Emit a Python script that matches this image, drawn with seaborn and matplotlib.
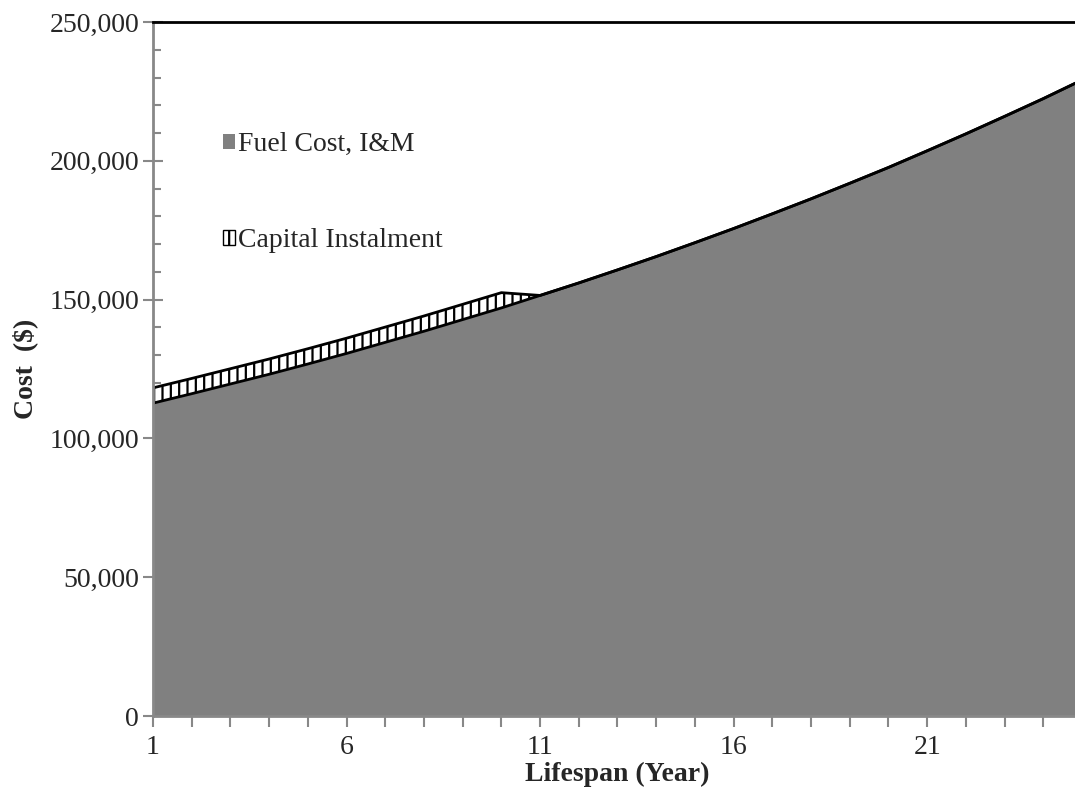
import numpy as np
import pandas as pd
import matplotlib
matplotlib.use('Agg')
import matplotlib.pyplot as plt
import seaborn as sns
from matplotlib.patches import Patch
from matplotlib.ticker import MultipleLocator, FixedLocator, FuncFormatter

# values
years = list(range(1, 26))
fuel_cost = [112700, 116100, 119600, 123100, 126800, 130600, 134600, 138600,
             142800, 147000, 151500, 156000, 160700, 165500, 170500, 175600,
             180900, 186300, 191900, 197600, 203600, 209700, 216000, 222400,
             229100]
capital = [5500] * 10 + [0] * 15
year_labels = [1, 6, 11, 16, 21]

df = pd.DataFrame({'year': years, 'fuel': fuel_cost, 'capital': capital})
df['total'] = df['fuel'] + df['capital']

sns.set_style('ticks')
plt.rcParams['font.family'] = ['Liberation Serif', 'DejaVu Serif']
plt.rcParams['hatch.linewidth'] = 1.6

fig = plt.figure(figsize=(10.75, 7.89), dpi=100)
ax = fig.add_axes([153 / 1075, 1 - 716 / 789, (1082 - 153) / 1075, (716 - 22) / 789])

ax.fill_between(df['year'], 0, df['fuel'], color='#808080', linewidth=0, zorder=1)
ax.fill_between(df['year'], df['fuel'], df['total'], facecolor='white',
                edgecolor='black', hatch='||', linewidth=0, zorder=1)
sns.lineplot(data=df, x='year', y='fuel', color='black', linewidth=2, ax=ax, zorder=2)
sns.lineplot(data=df, x='year', y='total', color='black', linewidth=2, ax=ax, zorder=2)
ax.plot([1, 1], [df['fuel'][0], df['total'][0]], color='black', linewidth=2, zorder=2)

ax.set_xlim(1, 25)
ax.set_ylim(0, 250000)

ax.xaxis.set_major_locator(FixedLocator(year_labels))
ax.xaxis.set_minor_locator(MultipleLocator(1))
ax.yaxis.set_major_locator(MultipleLocator(50000))
ax.yaxis.set_minor_locator(MultipleLocator(10000))
ax.yaxis.set_major_formatter(FuncFormatter(lambda v, p: f'{int(v):,}'))

ax.tick_params(axis='y', which='major', direction='inout', length=14, width=1.5,
               color='#888888', labelsize=20, pad=3)
ax.tick_params(axis='y', which='minor', direction='in', length=6, width=1.5,
               color='#888888')
ax.tick_params(axis='x', which='both', direction='out', length=8, width=1.5,
               color='#888888', labelsize=20, pad=6)

for side in ['left', 'bottom']:
    ax.spines[side].set_color('#888888')
    ax.spines[side].set_linewidth(2)
ax.spines['top'].set_color('black')
ax.spines['top'].set_linewidth(2)
ax.spines['right'].set_visible(False)

ax.set_xlabel('Lifespan (Year)', fontsize=20, fontweight='bold', labelpad=1)
ax.set_ylabel('Cost  ($)', fontsize=20, fontweight='bold', labelpad=8)

handles = [Patch(facecolor='#808080', edgecolor='none', label='Fuel Cost, I&M'),
           Patch(facecolor='white', edgecolor='black', hatch='||', label='Capital Instalment')]
ax.legend(handles=handles, loc='upper left', bbox_to_anchor=(0.048, 0.877),
          frameon=False, fontsize=20, handlelength=0.45, handleheight=0.45,
          handletextpad=0.12, labelspacing=2.55)

fig.savefig('out.png', dpi=100)
